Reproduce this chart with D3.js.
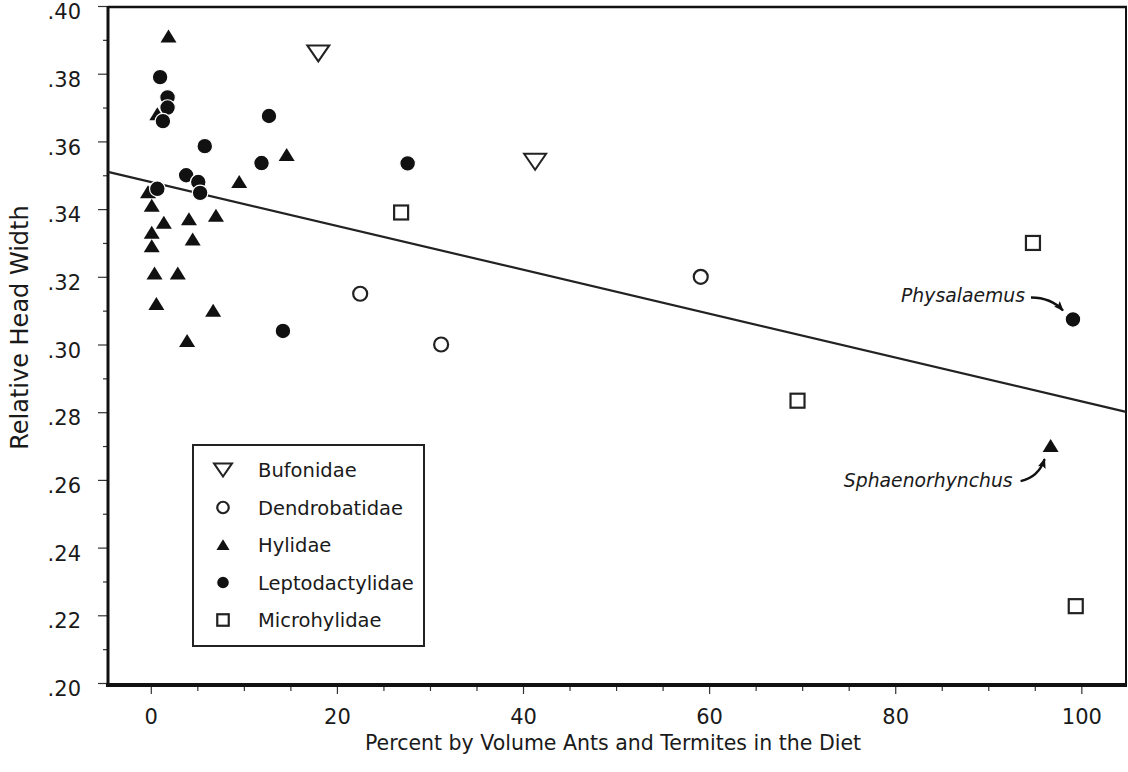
<!DOCTYPE html>
<html><head><meta charset="utf-8">
<script src="https://cdn.jsdelivr.net/npm/d3@7"></script>
<style>
html,body{margin:0;padding:0;background:#fff;}
svg text{font-family:"DejaVu Sans",Verdana,sans-serif;fill:#1a1a1a;}
</style></head>
<body>
<svg id="chart" width="1128" height="772"></svg>
<script>
// ---- data ----
const families = ["Bufonidae","Dendrobatidae","Hylidae","Leptodactylidae","Microhylidae"];
const bufonidae = [[18.0,0.386],[41.3,0.354]];
const dendrobatidae = [[22.5,0.315],[31.2,0.300],[59.1,0.320]];
const hylidae = [[1.9,0.391],[0.7,0.368],[14.6,0.356],[9.5,0.348],[-0.3,0.345],[0.1,0.341],
  [1.4,0.336],[4.1,0.337],[7.0,0.338],[0.1,0.333],[0.1,0.329],[4.5,0.331],[0.4,0.321],
  [2.9,0.321],[0.6,0.312],[6.7,0.310],[3.9,0.301],[96.7,0.270]];
const leptodactylidae = [[1.0,0.379],[1.8,0.373],[1.8,0.370],[1.3,0.366],[12.7,0.3675],
  [5.8,0.3586],[11.9,0.3536],[3.8,0.350],[5.1,0.348],[5.3,0.3448],[0.7,0.346],
  [14.2,0.304],[27.6,0.3535],[99.1,0.3074]];
const microhylidae = [[26.9,0.339],[94.8,0.330],[69.5,0.2834],[99.4,0.2227]];
const regression = {intercept:0.348, slope:-0.000648};
const xMajorTicks = [0,20,40,60,80,100];
const xMinorTicks = [5,10,15,25,30,35,45,50,55,65,70,75,85,90,95];
const yMajorTicks = [0.20,0.22,0.24,0.26,0.28,0.30,0.32,0.34,0.36,0.38,0.40];
const yMinorTicks = [0.21,0.23,0.25,0.27,0.29,0.31,0.33,0.35,0.37,0.39];
const annotations = [
  {label:"Physalaemus", point:[99.1,0.3074]},
  {label:"Sphaenorhynchus", point:[96.7,0.270]}
];

// ---- drawing ----
const svg = d3.select("#chart");
const x = d3.scaleLinear().domain([-4.6,104.8]).range([108,1126]);
const y = d3.scaleLinear().domain([0.20,0.40]).range([683,6]);
const [xl,xr] = x.range(); const [yb,yt] = y.range();
const fmt = v => d3.format(".2f")(v).replace(/^0/,"");

svg.append("defs").append("marker").attr("id","arr")
  .attr("viewBox","0 0 10 8").attr("refX",9).attr("refY",4)
  .attr("markerWidth",4.2).attr("markerHeight",3.4).attr("markerUnits","strokeWidth")
  .attr("orient","auto")
  .append("path").attr("d","M0,0 L10,4 L0,8 L2,4 z").attr("fill","#111");

// axes
const gx = svg.append("g").attr("transform",`translate(0,${yb+3})`)
  .call(d3.axisBottom(x).tickValues(xMajorTicks).tickSize(8).tickPadding(19).tickFormat(d3.format("d")));
const gxm = svg.append("g").attr("transform",`translate(0,${yb+3})`)
  .call(d3.axisBottom(x).tickValues(xMinorTicks).tickSize(5).tickFormat(""));
const gy = svg.append("g").attr("transform",`translate(${xl},0)`)
  .call(d3.axisLeft(y).tickValues(yMajorTicks).tickSize(10).tickPadding(17).tickFormat(fmt));
const gym = svg.append("g").attr("transform",`translate(${xl},0)`)
  .call(d3.axisLeft(y).tickValues(yMinorTicks).tickSize(5).tickFormat(""));
[gx,gxm,gy,gym].forEach(g=>{
  g.select(".domain").remove();
  g.selectAll(".tick line").attr("stroke","#333").attr("stroke-width",1.2);
  g.selectAll("text").attr("font-size",21).attr("fill","#222")
   .attr("font-family",'"DejaVu Sans",Verdana,sans-serif');
});
gy.selectAll("text").attr("dy","0.6em");
gx.selectAll("text").attr("dy","0.5em");

// frame
svg.append("line").attr("x1",xl).attr("x2",xl).attr("y1",yt).attr("y2",yb+4)
  .attr("stroke","#111").attr("stroke-width",3);
svg.append("line").attr("x1",xl-2).attr("x2",xr+1).attr("y1",yb+2).attr("y2",yb+2)
  .attr("stroke","#111").attr("stroke-width",4);
svg.append("line").attr("x1",xl).attr("x2",xr+1).attr("y1",yt+1).attr("y2",yt+1)
  .attr("stroke","#111").attr("stroke-width",2.5);
svg.append("line").attr("x1",xr).attr("x2",xr).attr("y1",yt).attr("y2",yb+2)
  .attr("stroke","#111").attr("stroke-width",2);

// axis titles
svg.append("text").attr("x",613).attr("y",750).attr("text-anchor","middle")
  .attr("font-size",20.5).text("Percent by Volume Ants and Termites in the Diet");
svg.append("text").attr("transform",`translate(28,${(y(0.34)+y(0.27))/2}) rotate(-90)`)
  .attr("text-anchor","middle").attr("font-size",24).text("Relative Head Width");

// regression line
const xd = x.domain();
svg.append("line")
  .attr("x1",x(xd[0])).attr("y1",y(regression.intercept+regression.slope*xd[0]))
  .attr("x2",x(xd[1])).attr("y2",y(regression.intercept+regression.slope*xd[1]))
  .attr("stroke","#222").attr("stroke-width",2.2);

// symbol shapes
const shapes = {
  Bufonidae: (g,s)=>g.append("path").attr("d",`M${-11*s},${-8*s} L${11*s},${-8*s} L0,${8*s} Z`)
      .attr("fill","#fff").attr("stroke","#222").attr("stroke-width",2),
  Dendrobatidae: (g,s)=>g.append("circle").attr("r",7*s).attr("fill","#fff")
      .attr("stroke","#222").attr("stroke-width",2.2),
  Hylidae: (g,s)=>g.append("path").attr("d",`M0,${-7*s} L${8*s},${6*s} L${-8*s},${6*s} Z`)
      .attr("fill","#111"),
  Leptodactylidae: (g,s)=>g.append("circle").attr("r",7.8*s).attr("fill","#111")
      .attr("stroke","#fff").attr("stroke-width",1.2),
  Microhylidae: (g,s)=>g.append("rect").attr("x",-7*s).attr("y",-7*s)
      .attr("width",14*s).attr("height",14*s).attr("fill","#fff")
      .attr("stroke","#222").attr("stroke-width",2.2)
};
const series = [
  ["Hylidae",hylidae],["Leptodactylidae",leptodactylidae],["Dendrobatidae",dendrobatidae],
  ["Bufonidae",bufonidae],["Microhylidae",microhylidae]
];
series.forEach(([name,arr])=>{
  svg.append("g").selectAll("g").data(arr).join("g")
    .attr("transform",d=>`translate(${x(d[0])},${y(d[1])})`)
    .each(function(){ shapes[name](d3.select(this),1); });
});

// annotations
const annLayout = {
  Physalaemus:{tx:-48,ty:-17, path:[[-42,-22],[-22,-22],[-10,-9]]},
  Sphaenorhynchus:{tx:-38,ty:41, path:[[-30,35],[-12,31],[-6,13]]}
};
annotations.forEach(a=>{
  const px=x(a.point[0]), py=y(a.point[1]); const L=annLayout[a.label];
  svg.append("text").attr("x",px+L.tx).attr("y",py+L.ty).attr("text-anchor","end")
    .attr("font-size",18.8).attr("font-style","italic").text(a.label);
  const p=L.path;
  svg.append("path")
    .attr("d",`M${px+p[0][0]},${py+p[0][1]} Q${px+p[1][0]},${py+p[1][1]} ${px+p[2][0]},${py+p[2][1]}`)
    .attr("fill","none").attr("stroke","#111").attr("stroke-width",2.4).attr("marker-end","url(#arr)");
});

// legend
const leg = svg.append("g").attr("transform","translate(193,445)");
leg.append("rect").attr("width",231).attr("height",201).attr("fill","#fff")
  .attr("stroke","#222").attr("stroke-width",2);
families.forEach((f,i)=>{
  const row = leg.append("g").attr("transform",`translate(30,${25+i*37.5})`);
  shapes[f](row,0.82);
  row.append("text").attr("x",35).attr("y",0).attr("dy","0.36em")
    .attr("font-size",19.5).text(f);
});
</script>
</body></html>
